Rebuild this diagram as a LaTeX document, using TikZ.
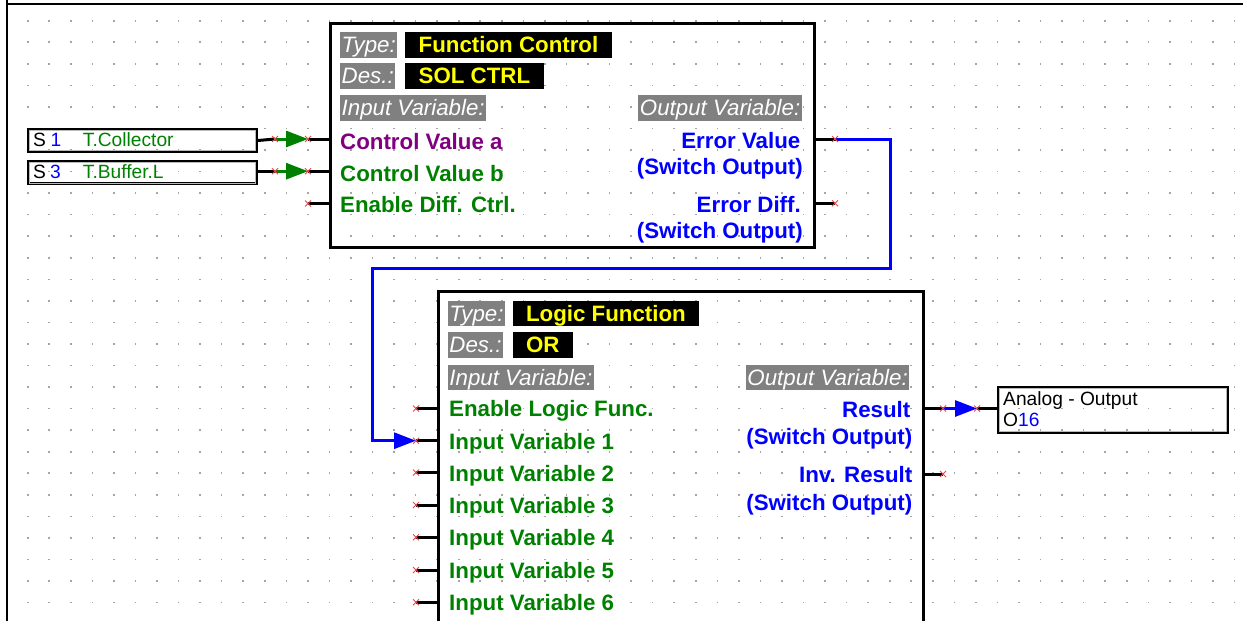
\documentclass[tikz,border=0pt]{standalone}
\usepackage{fontspec}
\setmainfont{Liberation Sans}
\usetikzlibrary{arrows.meta}
\definecolor{dgreen}{RGB}{0,128,0}
\definecolor{dpurple}{RGB}{128,0,128}
\definecolor{dblue}{RGB}{0,0,255}
\definecolor{hgray}{RGB}{128,128,128}
\definecolor{dotc}{RGB}{165,165,165}
\definecolor{xred}{RGB}{235,70,70}
\definecolor{dyellow}{RGB}{255,255,0}
\begin{document}
\begin{tikzpicture}[x=1pt,y=-1pt,
  fsm/.style={font=\fontsize{19.2}{22}\selectfont, inner sep=0pt, anchor=base west},
  blbl/.style={font=\fontsize{22.3}{26}\selectfont\bfseries, inner sep=0pt, anchor=base west},
  blbr/.style={font=\fontsize{22.3}{26}\selectfont\bfseries, inner sep=0pt, anchor=base east, text=dblue},
  hdr/.style={fill=hgray, text=white, font=\fontsize{22.3}{26}\selectfont\itshape, text height=20.3pt, text depth=5.4pt, inner ysep=0pt, inner xsep=1.5pt, anchor=base west},
  valbox/.style={fill=black, text=dyellow, font=\fontsize{22.3}{26}\selectfont\bfseries, text height=20.3pt, text depth=5.4pt, inner ysep=0pt, inner xsep=13.5pt, anchor=base west},
  blockbox/.style={draw, line width=3pt, anchor=north west, inner sep=0pt},
  sigbox/.style={draw, line width=3pt, anchor=north west, inner sep=0pt},
  pin/.style={line width=3pt, black},
  garrow/.style={line width=3pt, dgreen, -{Triangle[length=22pt,width=16pt]}},
  barrow/.style={line width=3pt, dblue, -{Triangle[length=22pt,width=16pt]}},
  xm/.pic={\draw[xred, line width=0.9pt] (-3,-3) -- (3,3) (-3,3) -- (3,-3);}
]
\useasboundingbox (0,0) rectangle (1243,621);
\clip (0,0) rectangle (1243,621);
% dot grid
\foreach \i in {0,...,56}{
  \foreach \j in {0,...,28}{
    \fill[dotc] ({27.7+\i*21.55-0.8},{20.7+\j*21.55-0.8}) rectangle ++(1.6,1.6);
  }
}
% frame
\draw[line width=2pt] (7,0) -- (7,621);
\draw[line width=2pt] (6,3.7) -- (1243,3.7);

% blocks
\node[blockbox, minimum width=484pt, minimum height=224pt] (fc) at (329,22) {};
\node[blockbox, minimum width=485pt, minimum height=360pt] (lf) at (437,290) {};
\node[sigbox, minimum width=228pt, minimum height=22pt] (s1) at (27,128) {};
\node[sigbox, minimum width=228pt, minimum height=22.4pt] (s3) at (27,160) {};
\node[sigbox, minimum width=229pt, minimum height=45pt] (ao) at (997,386) {};
\foreach \b in {s1,s3,ao}{
  \draw[gray!55, line width=0.8pt] ([shift={(2.5,2.5)}]\b.north west) rectangle ([shift={(-2.5,-2.5)}]\b.south east);
}

% pin coordinates
\coordinate (s1x) at (275,139);
\coordinate (s3x) at (275,171.2);
\coordinate (fa) at (308,139);
\coordinate (fb) at (308,171.2);
\coordinate (fe) at (308,203.5);
\coordinate (fo1) at (835,139);
\coordinate (fo2) at (835,203.3);
\coordinate (le) at (416,408.5);
\coordinate (l1) at (416,440.7);
\coordinate (l2) at (416,472.5);
\coordinate (l3) at (416,505);
\coordinate (l4) at (416,537.3);
\coordinate (l5) at (416,570);
\coordinate (l6) at (416,602.3);
\coordinate (lr) at (943,408.5);
\coordinate (li) at (943,474);
\coordinate (aox) at (977,408.5);
\coordinate (bend1) at (890,268);
\coordinate (bend2) at (372,268);

% pins
\foreach \p in {fa,fb,fe}{ \draw[pin] (\p) -- (\p -| fc.west); }
\foreach \p in {fo1,fo2}{ \draw[pin] (fc.east |- \p) -- (\p); }
\foreach \p in {le,l1,l2,l3,l4,l5,l6}{ \draw[pin] (\p) -- (\p -| lf.west); }
\foreach \p in {lr,li}{ \draw[pin] (lf.east |- \p) -- (\p); }

% connectors
\draw[pin] (s1.east) -- (s1x);
\draw[pin] (s3.east |- s3x) -- (s3x);
\draw[garrow] (s1x) -- (fa);
\draw[garrow] (s3x) -- (fb);
\draw[barrow] (fo1) -| (bend1) -- (bend2) |- (l1);
\draw[barrow] (lr) -- (aox);
\draw[pin] (aox) -- (ao.west |- aox);

% red marks
\foreach \p in {s1x,s3x,fa,fb,fe,fo1,fo2,le,l1,l2,l3,l4,l5,l6,lr,li,aox}{ \pic at (\p) {xm}; }

% signal box texts
\node[fsm] (s1s) at (33,146) {S};
\node[fsm, text=dblue] (s1n) at (50.5,146) {1};
\node[fsm, text=dgreen] (s1t) at (82.7,146) {T.Collector};
\node[fsm] (s3s) at (33,178.6) {S};
\node[fsm, text=dblue] (s3n) at (50,178.6) {3};
\node[fsm, text=dgreen] (s3t) at (82.7,178.6) {T.Buffer.L};
\node[fsm] (aot) at (1003,405) {Analog - Output};
\node[fsm] (aon) at (1003,426.7) {O\textcolor{dblue}{16}};

% function control texts
\node[hdr] (fct) at (340,52.3) {Type:};
\node[valbox] (fctv) at (405,52.3) {Function Control};
\node[hdr] (fcd) at (340,83.6) {Des.:};
\node[valbox] (fcdv) at (405,83.6) {SOL CTRL};
\node[hdr] (fci) at (340,115.7) {Input Variable:};
\node[hdr, anchor=base east] (fco) at (802,115.7) {Output Variable:};
\node[blbl, text=dpurple] (fcla) at (340,149.3) {Control Value a};
\node[blbl, text=dgreen] (fclb) at (340,181) {Control Value b};
\node[blbl, text=dgreen] (fcle) at (340,212.7) {Enable Diff. Ctrl.};
\node[blbr] (fcr1) at (800.5,148.3) {Error Value};
\node[blbr] (fcr1s) at (803,174) {(Switch Output)};
\node[blbr] (fcr2) at (801,212.7) {Error Diff.};
\node[blbr] (fcr2s) at (803,238) {(Switch Output)};

% logic function texts
\node[hdr] (lft) at (447.7,321) {Type:};
\node[valbox] (lftv) at (512.3,321) {Logic Function};
\node[hdr] (lfd) at (447.7,352.5) {Des.:};
\node[valbox] (lfdv) at (512.3,352.5) {OR};
\node[hdr] (lfi) at (447.7,385) {Input Variable:};
\node[hdr, anchor=base east] (lfo) at (909.5,385) {Output Variable:};
\node[blbl, text=dgreen] (lfe) at (449,416.7) {Enable Logic Func.};
\node[blbl, text=dgreen] (lf1) at (449,449) {Input Variable 1};
\node[blbl, text=dgreen] (lf2) at (449,481.3) {Input Variable 2};
\node[blbl, text=dgreen] (lf3) at (449,513.6) {Input Variable 3};
\node[blbl, text=dgreen] (lf4) at (449,545.9) {Input Variable 4};
\node[blbl, text=dgreen] (lf5) at (449,578.2) {Input Variable 5};
\node[blbl, text=dgreen] (lf6) at (449,610.5) {Input Variable 6};
\node[blbr] (lfr1) at (910.5,417.7) {Result};
\node[blbr] (lfr1s) at (912.5,444) {(Switch Output)};
\node[blbr] (lfr2) at (912.5,482.3) {Inv. Result};
\node[blbr] (lfr2s) at (912.5,510) {(Switch Output)};
\end{tikzpicture}
\end{document}
